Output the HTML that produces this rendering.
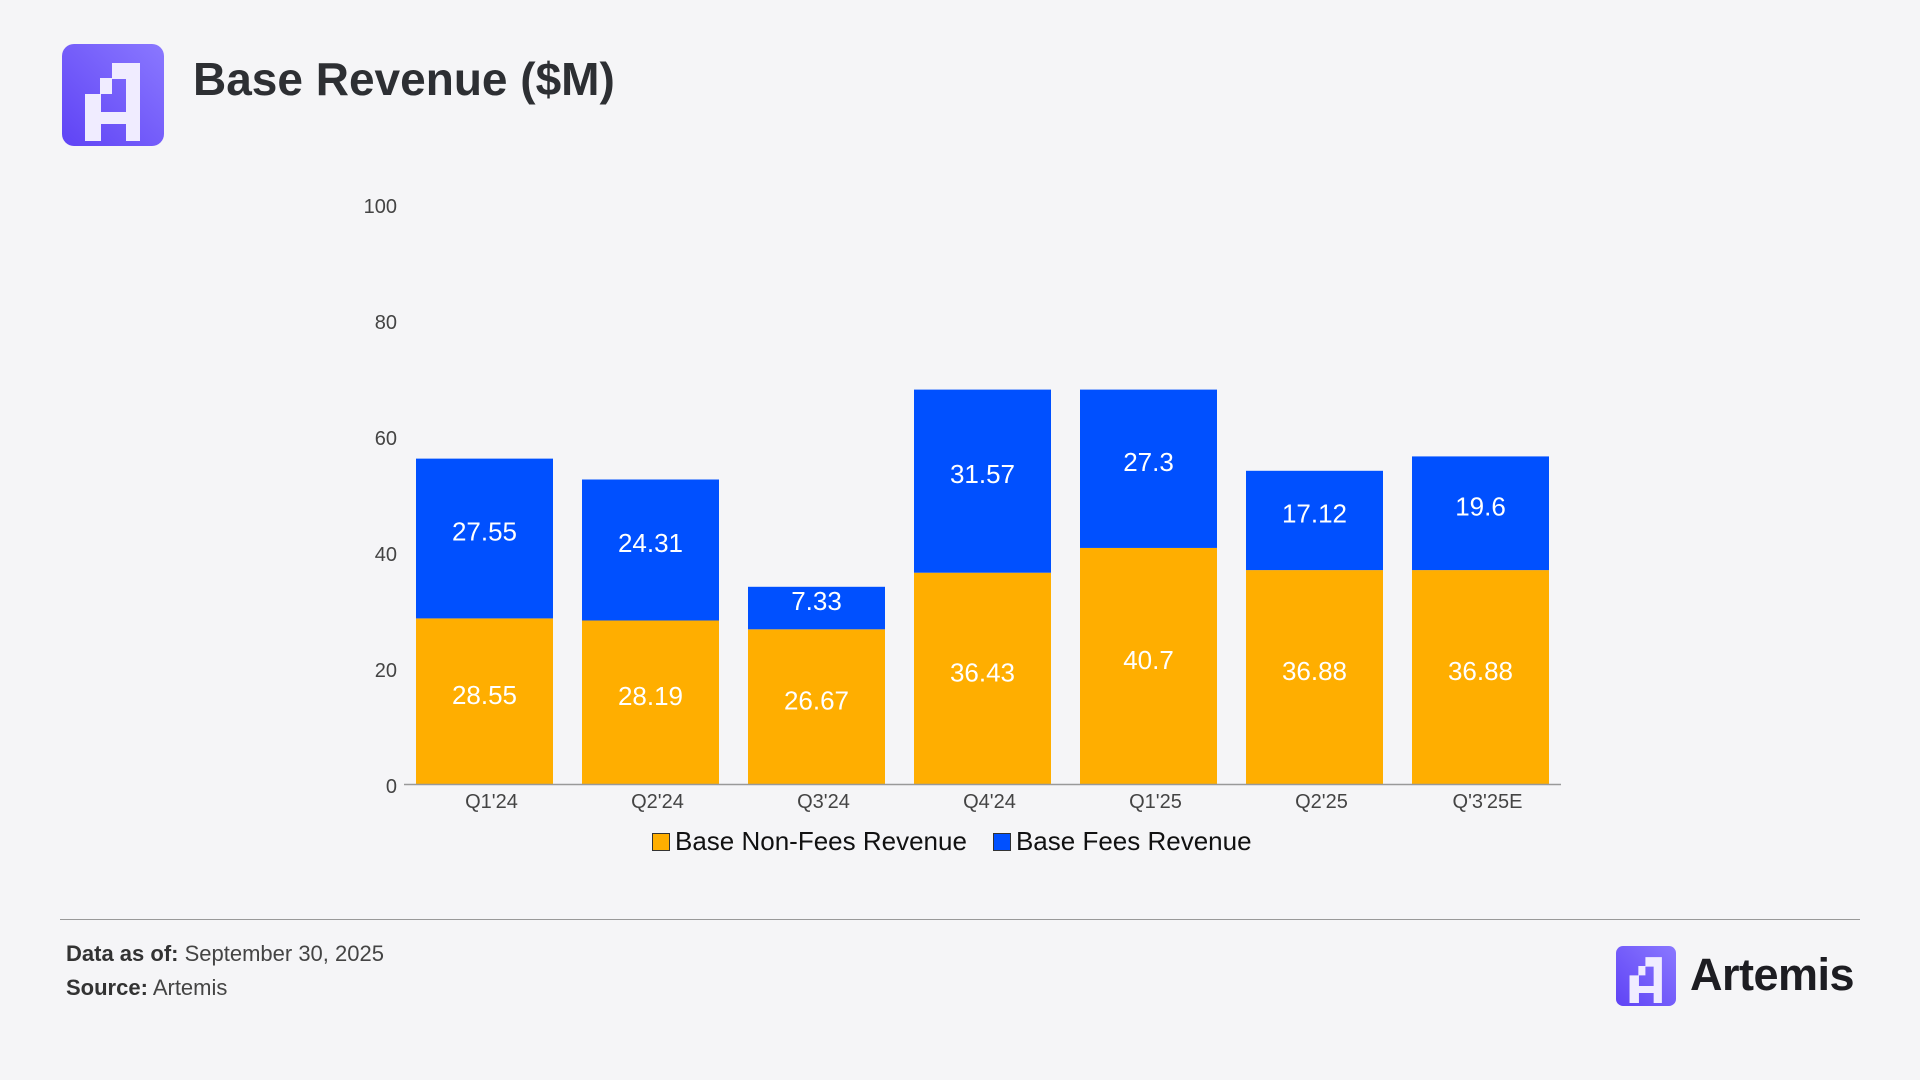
<!DOCTYPE html>
<html><head><meta charset="utf-8"><style>
body{margin:0;width:1920px;height:1080px;background:#f5f5f7;font-family:"Liberation Sans",sans-serif;position:relative;overflow:hidden}
.t{position:absolute;white-space:nowrap}
</style></head><body>
<svg style="position:absolute;left:62px;top:44px" width="102" height="102" viewBox="0 0 102 102">
<defs><linearGradient id="g" x1="1" y1="0" x2="0" y2="1"><stop offset="0" stop-color="#8a78ff"/><stop offset="1" stop-color="#5f43f5"/></linearGradient></defs>
<rect width="102" height="102" rx="12" fill="url(#g)"/>
<path d="M50 19h28v78h-14v-17h-25v17h-16v-47h15v-16h12zM39 50v18h25v-33h-14v15z" fill="#f0ecff" fill-rule="evenodd"/>
</svg>
<div class="t" style="left:193px;top:52px;font-size:46px;font-weight:bold;color:#2d2f33">Base Revenue ($M)</div>
<svg id="chart" width="1920" height="880" style="position:absolute;left:0;top:0"></svg>
<div class="t" style="left:652px;top:826px;font-size:26px;color:#111;display:flex;align-items:center">
<span style="width:16px;height:16px;background:#FFAE00;border:1.5px solid #333;margin-right:5px"></span><span>Base Non-Fees Revenue</span>
<span style="width:16px;height:16px;background:#0050FF;border:1.5px solid #333;margin:0 5px 0 26px"></span><span>Base Fees Revenue</span>
</div>
<div style="position:absolute;left:60px;top:919px;width:1800px;height:1px;background:#999"></div>
<div class="t" style="left:66px;top:941px;font-size:22px;color:#444"><b style="color:#333">Data as of:</b> September 30, 2025</div>
<div class="t" style="left:66px;top:975px;font-size:22px;color:#444"><b style="color:#333">Source:</b> Artemis</div>
<svg style="position:absolute;left:1616px;top:946px" width="60" height="60" viewBox="0 0 102 102">
<rect width="102" height="102" rx="12" fill="url(#g)"/>
<path d="M50 19h28v78h-14v-17h-25v17h-16v-47h15v-16h12zM39 50v18h25v-33h-14v15z" fill="#f0ecff" fill-rule="evenodd"/>
</svg>
<div class="t" style="left:1690px;top:949px;font-size:45px;font-weight:bold;color:#1d1d22;letter-spacing:-0.5px">Artemis</div>
<script>
const categories=["Q1'24","Q2'24","Q3'24","Q4'24","Q1'25","Q2'25","Q'3'25E"];
const nonFees=[28.55,28.19,26.67,36.43,40.7,36.88,36.88];
const fees=[27.55,24.31,7.33,31.57,27.3,17.12,19.6];
const yTicks=[0,20,40,60,80,100];
const NS="http://www.w3.org/2000/svg",svg=document.getElementById('chart');
const y=v=>784-v*5.8, x0=416, step=166, bw=137;
function mk(t,a,txt){const e=document.createElementNS(NS,t);for(const k in a)e.setAttribute(k,a[k]);if(txt!=null)e.textContent=txt;svg.appendChild(e);return e;}
yTicks.forEach(v=>{const e=mk('text',{x:397,y:y(v)+9,'text-anchor':'end','font-size':20,fill:'#444'},v);

});
categories.forEach((c,i)=>{const x=x0+i*step;
const b1=mk('rect',{x:x,y:y(nonFees[i]),width:bw,height:y(0)-y(nonFees[i]),fill:'#FFAE00'});


const b2=mk('rect',{x:x,y:y(nonFees[i]+fees[i]),width:bw,height:y(0)-y(fees[i]),fill:'#0050FF'});


const l1=mk('text',{x:x+bw/2,y:(y(0)+y(nonFees[i]))/2+3,'text-anchor':'middle','font-size':26,fill:'#fff'},nonFees[i]);


const l2=mk('text',{x:x+bw/2,y:(y(nonFees[i])+y(nonFees[i]+fees[i]))/2+2,'text-anchor':'middle','font-size':26,fill:'#fff'},fees[i]);


const xl=mk('text',{x:x+bw/2+7,y:808,'text-anchor':'middle','font-size':20,fill:'#444'},c);

});
const ax=mk('line',{x1:404,x2:1561,y1:784.5,y2:784.5,stroke:'#999','stroke-width':1.5});


</script>
</body></html>
